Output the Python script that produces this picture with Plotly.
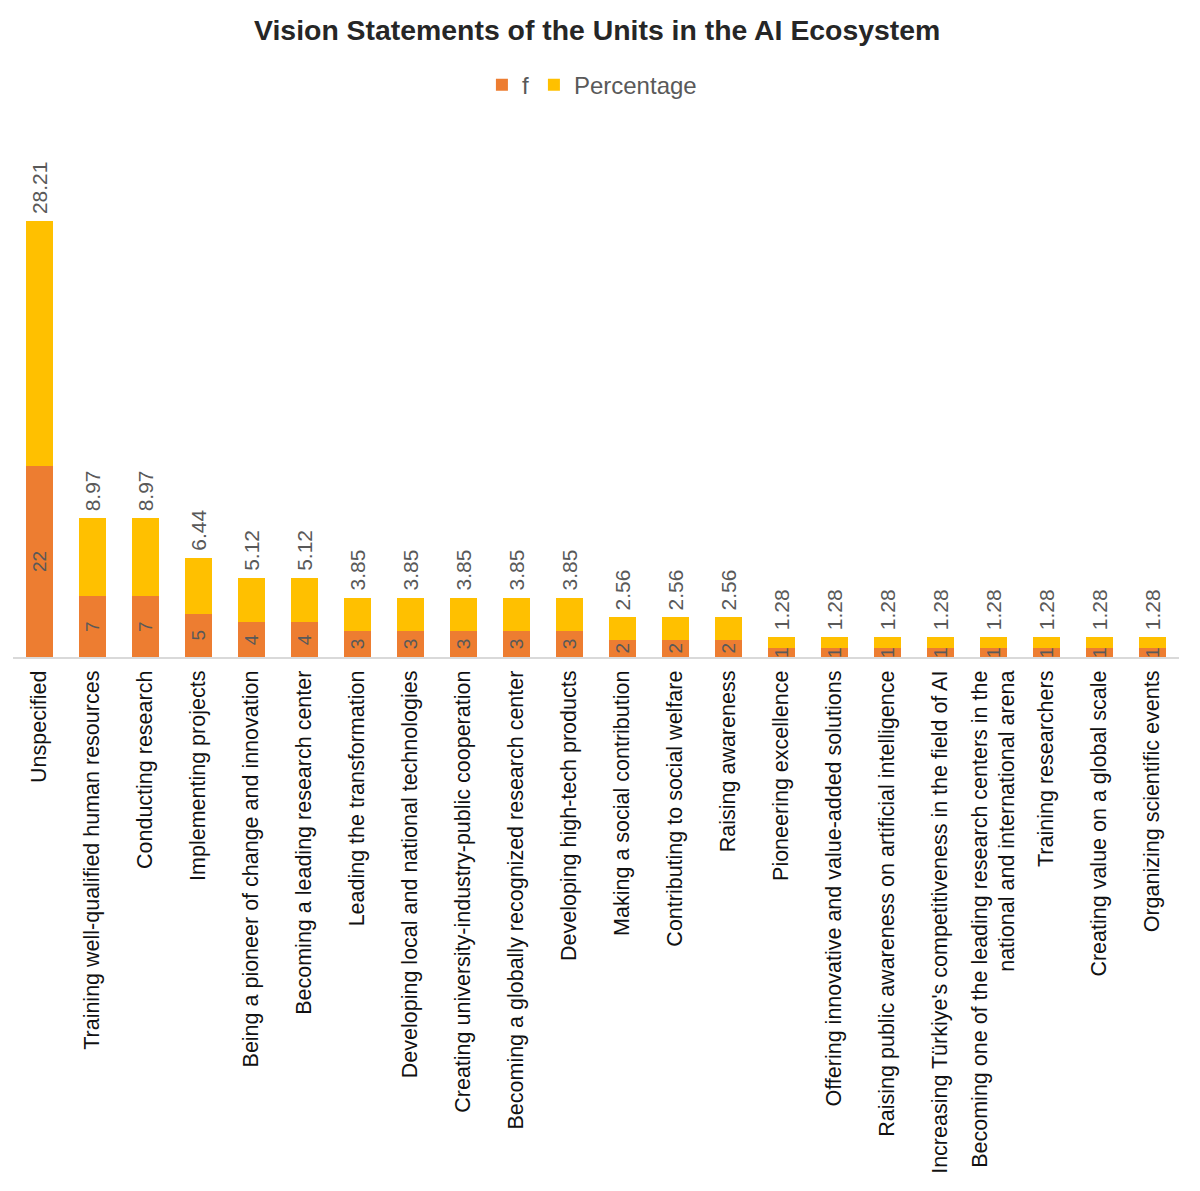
import plotly.graph_objects as go

categories = [
    "Unspecified",
    "Training well-qualified human resources",
    "Conducting research",
    "Implementing projects",
    "Being a pioneer of change and innovation",
    "Becoming a leading research center",
    "Leading the transformation",
    "Developing local and national technologies",
    "Creating university-industry-public cooperation",
    "Becoming a globally recognized research center",
    "Developing high-tech products",
    "Making a social contribution",
    "Contributing to social welfare",
    "Raising awareness",
    "Pioneering excellence",
    "Offering innovative and value-added solutions",
    "Raising public awareness on artificial intelligence",
    "Increasing Türkiye's competitiveness in the field of AI",
    "Becoming one of the leading research centers in the<br>national and international arena",
    "Training researchers",
    "Creating value on a global scale",
    "Organizing scientific events",
]
f_values = [22, 7, 7, 5, 4, 4, 3, 3, 3, 3, 3, 2, 2, 2, 1, 1, 1, 1, 1, 1, 1, 1]
pct_values = [28.21, 8.97, 8.97, 6.44, 5.12, 5.12, 3.85, 3.85, 3.85, 3.85, 3.85,
              2.56, 2.56, 2.56, 1.28, 1.28, 1.28, 1.28, 1.28, 1.28, 1.28, 1.28]

FONT = "Liberation Sans, Arial, sans-serif"
GREY = "#595959"

fig = go.Figure()
fig.add_trace(go.Bar(
    x=categories, y=f_values, name="f",
    marker=dict(color="#ED7D31", line_width=0),
    text=[str(v) for v in f_values],
    textposition="inside", insidetextanchor="middle", textangle=-90,
    constraintext="none",
    textfont=dict(color=GREY, size=19, family=FONT),
    cliponaxis=False,
))
fig.add_trace(go.Bar(
    x=categories, y=pct_values, name="Percentage",
    marker=dict(color="#FFC000", line_width=0),
))

# percentage labels above the stacked bars
for c, f, p in zip(categories, f_values, pct_values):
    fig.add_annotation(
        x=c, y=f + p, text=f"{p:.2f}", textangle=-90,
        showarrow=False, yanchor="bottom", xanchor="center", yshift=5,
        font=dict(color=GREY, size=21, family=FONT),
    )

fig.update_layout(
    width=1200, height=1191,
    barmode="stack", bargap=0.49,
    plot_bgcolor="white", paper_bgcolor="white",
    margin=dict(l=5, r=29, t=122, b=542),
    font=dict(family=FONT),
    title=dict(
        text="<b>Vision Statements of the Units in the AI Ecosystem</b>",
        x=0.491, xanchor="center", y=0.9815, yanchor="middle",
        font=dict(size=28.4, color="#262626", family=FONT),
    ),
    legend=dict(
        orientation="h", x=0.4965, xanchor="center", y=1.085, yanchor="middle",
        font=dict(size=24, color=GREY, family=FONT),
        traceorder="normal", itemwidth=30,
    ),
    xaxis=dict(
        tickangle=-90, showline=True, linecolor="#d9d9d9", linewidth=2,
        ticks="", ticklabelstandoff=3,
        tickfont=dict(size=21.5, color="#111111", family=FONT),
        showgrid=False,
    ),
    yaxis=dict(visible=False, range=[0, 60.7], showgrid=False),
)
fig.write_html("out.html")
